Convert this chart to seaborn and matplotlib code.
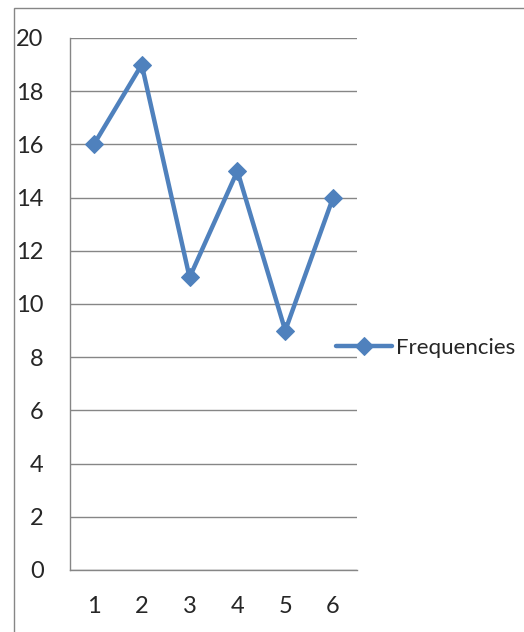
import matplotlib
matplotlib.use("Agg")
import matplotlib.pyplot as plt
from matplotlib.patches import Rectangle
import pandas as pd
import seaborn as sns

categories = [1, 2, 3, 4, 5, 6]
frequencies = [16, 19, 11, 15, 9, 14]
y_ticks = list(range(0, 21, 2))

sns.set_style("white")
plt.rcParams['font.family'] = ['Lato', 'DejaVu Sans']

df = pd.DataFrame({'x': categories, 'Frequencies': frequencies})

fig = plt.figure(figsize=(5.24, 6.32), dpi=100)
ax = fig.add_axes([70/524, 62/632, (357-70)/524, (570-38)/632])

blue = '#4F81BD'
grey = '#868686'

sns.lineplot(data=df, x='x', y='Frequencies', ax=ax, color=blue, lw=3.2,
             marker='D', markersize=9, markeredgecolor=blue, label='Frequencies')

ax.set_xlim(0.5, 6.5)
ax.set_ylim(0, 20)
ax.set_yticks(y_ticks)
ax.set_xticks(categories)
ax.set_xticklabels([str(c) for c in categories])
ax.set_xticks([c - 0.5 for c in categories] + [6.5], minor=True)
ax.tick_params(axis='x', which='major', length=0, pad=19, labelsize=17)
ax.tick_params(axis='x', which='minor', length=6, width=1, color=grey, direction='out')
ax.tick_params(axis='y', which='major', length=6, width=1, color=grey, pad=13, labelsize=17)
ax.set_xlabel('')
ax.set_ylabel('')

ax.grid(axis='y', color=grey, lw=1)
ax.set_axisbelow(True)
for s in ['top', 'right']:
    ax.spines[s].set_visible(False)
for s in ['left', 'bottom']:
    ax.spines[s].set_color(grey)
    ax.spines[s].set_linewidth(1)

ax.legend(loc='center left', bbox_to_anchor=(336/524, 1 - 348/632),
          bbox_transform=fig.transFigure, frameon=False, fontsize=16,
          handlelength=2.5, handletextpad=0.2, borderpad=0, borderaxespad=0)

fig.patches.append(Rectangle((14/524, -0.1), 1.2, (632-8)/632 + 0.1,
                             transform=fig.transFigure, fill=False,
                             edgecolor=grey, lw=1))

fig.savefig('out.png', dpi=100)
